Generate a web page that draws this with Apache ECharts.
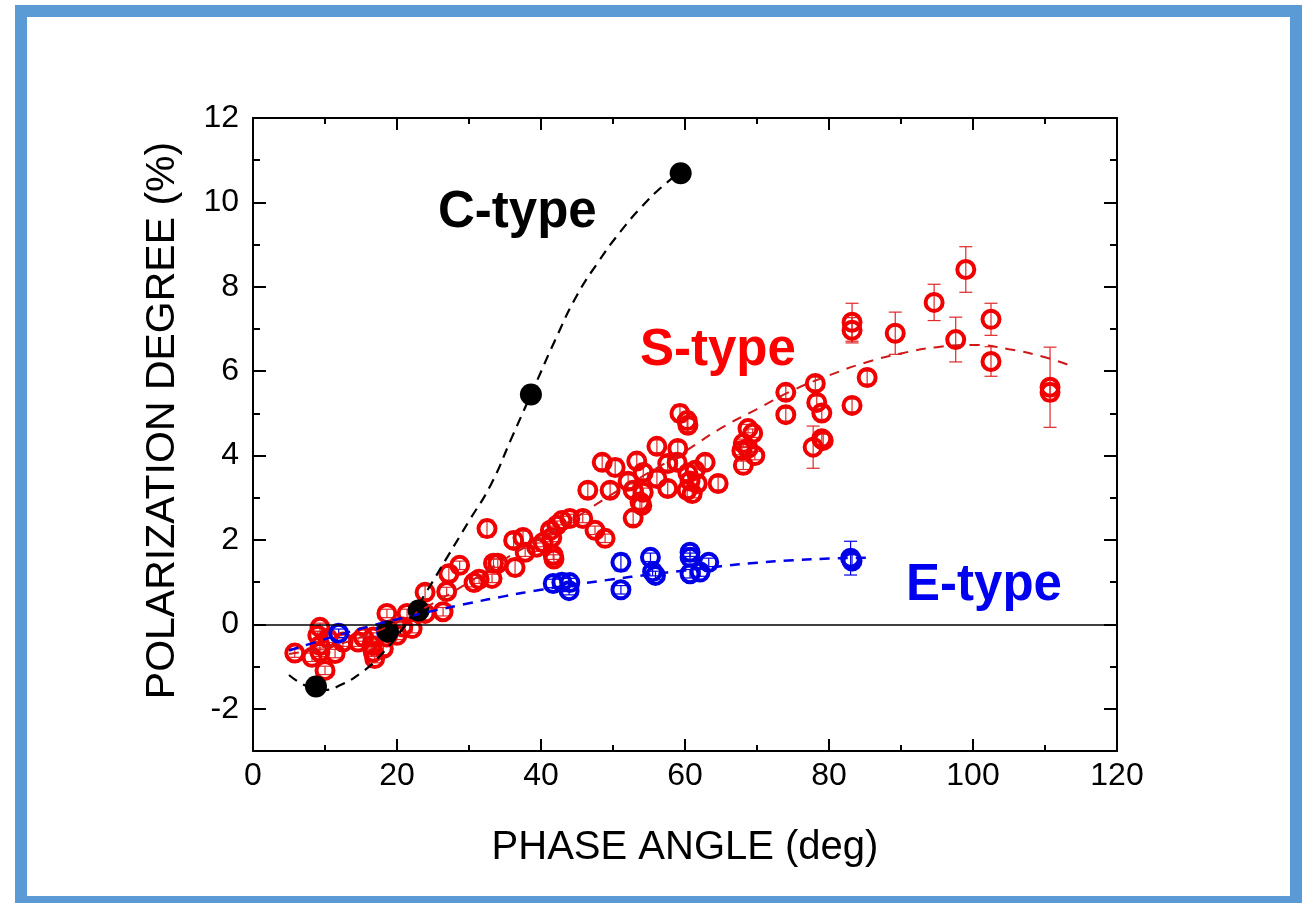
<!DOCTYPE html>
<html>
<head>
<meta charset="utf-8">
<script src="https://cdn.jsdelivr.net/npm/echarts@6/dist/echarts.min.js"></script>
<style>
  html, body { margin: 0; padding: 0; background: #fff; }
  #chart { position: absolute; left: 0; top: 0; width: 1312px; height: 903px; }
  #frame {
    position: absolute; left: 15px; top: 5px; width: 1287px; height: 903px;
    box-sizing: border-box; border: 12px solid #5b9bd5; pointer-events: none;
  }
</style>
</head>
<body>
<div id="chart"></div>
<div id="frame"></div>
<script>
// phase angle (deg), polarization (%), error (%)
const sTypePoints = [
  [5.8, -0.68, 0.1], [8.2, -0.78, 0.1], [9.0, -0.26, 0.1], [9.3, -0.5, 0.1],
  [9.3, -0.66, 0.1], [9.3, -0.07, 0.1], [10.0, -1.09, 0.1], [10.4, -0.33, 0.1],
  [11.4, -0.69, 0.1], [12.5, -0.42, 0.1], [14.6, -0.42, 0.1], [15.3, -0.3, 0.1],
  [16.5, -0.5, 0.1], [16.7, -0.3, 0.1], [16.7, -0.66, 0.1], [16.9, -0.81, 0.1],
  [18.1, -0.57, 0.15], [18.6, -0.3, 0.1], [18.6, 0.26, 0.1], [20.0, -0.26, 0.1],
  [20.8, -0.06, 0.1], [21.4, 0.26, 0.1], [22.1, -0.1, 0.1], [23.9, 0.26, 0.15],
  [23.9, 0.76, 0.15], [26.4, 0.3, 0.1], [26.9, 0.78, 0.1], [27.2, 1.2, 0.15],
  [28.7, 1.4, 0.1], [30.7, 0.99, 0.1], [31.4, 1.07, 0.1],
  [32.5, 2.27, 0.2], [33.2, 1.09, 0.1], [33.4, 1.45, 0.1], [34.0, 1.45, 0.1],
  [36.2, 1.99, 0.15], [36.4, 1.35, 0.2], [37.5, 2.06, 0.15], [37.8, 1.71, 0.1],
  [39.4, 1.83, 0.1], [40.3, 1.94, 0.1], [41.3, 2.23, 0.1], [41.5, 2.06, 0.1],
  [41.7, 1.64, 0.1], [41.8, 1.55, 0.1], [42.2, 2.35, 0.1], [42.9, 2.46, 0.1],
  [44.0, 2.51, 0.1], [45.8, 2.51, 0.1], [47.5, 2.23, 0.1], [48.9, 2.04, 0.1],
  [46.5, 3.18, 0.15], [48.5, 3.84, 0.15], [49.6, 3.18, 0.15], [50.3, 3.72, 0.2],
  [52.1, 3.39, 0.15], [52.8, 3.18, 0.15], [53.3, 3.87, 0.15], [53.75, 2.9, 0.15],
  [52.8, 2.52, 0.15], [54.0, 2.82, 0.15], [54.2, 3.13, 0.1], [54.2, 3.6, 0.15],
  [56.1, 3.46, 0.15], [56.1, 4.22, 0.15], [57.6, 3.22, 0.15], [57.6, 3.81, 0.15],
  [58.9, 3.84, 0.15], [59.0, 4.17, 0.15], [59.3, 5.0, 0.2], [60.3, 4.83, 0.2],
  [60.4, 4.72, 0.15], [60.4, 3.58, 0.15], [60.3, 3.18, 0.15], [61.0, 3.1, 0.1],
  [61.7, 3.34, 0.15], [61.4, 3.65, 0.15], [60.7, 3.4, 0.15], [62.8, 3.84, 0.15],
  [64.6, 3.34, 0.15], [68.1, 3.77, 0.1], [67.9, 4.12, 0.1], [68.75, 4.64, 0.1],
  [69.4, 4.53, 0.1], [68.1, 4.29, 0.1], [68.75, 4.17, 0.1], [69.7, 4.0, 0.1],
  [74.0, 5.5, 0.15], [74.0, 4.97, 0.15], [78.1, 5.71, 0.15], [78.3, 5.26, 0.15],
  [79.0, 5.01, 0.15], [77.8, 4.2, 0.5], [79.0, 4.4, 0.15], [79.2, 4.36, 0.15],
  [83.2, 7.16, 0.45], [83.2, 6.97, 0.3], [83.2, 5.19, 0.15], [85.3, 5.85, 0.15],
  [89.2, 6.9, 0.5], [94.6, 7.63, 0.43], [97.6, 6.75, 0.53], [99.0, 8.41, 0.54],
  [102.5, 7.23, 0.38], [102.5, 6.23, 0.35], [110.7, 5.62, 0.95], [110.7, 5.5, 0.2]
];

const eTypePoints = [
  [11.9, -0.21, 0.1], [18.5, -0.15, 0.1], [41.7, 0.97, 0.1], [42.9, 1.0, 0.1],
  [44.0, 0.99, 0.1], [43.9, 0.8, 0.1], [51.1, 1.47, 0.2], [51.1, 0.82, 0.1],
  [55.2, 1.59, 0.1], [55.5, 1.25, 0.1], [55.9, 1.16, 0.1], [60.7, 1.71, 0.1],
  [60.7, 1.59, 0.1], [60.7, 1.2, 0.1], [62.1, 1.24, 0.1], [63.3, 1.47, 0.1],
  [83.0, 1.57, 0.4], [83.2, 1.5, 0.15]
];

const cTypePoints = [[8.75, -1.47], [18.75, -0.17], [23.0, 0.33], [38.6, 5.45], [59.4, 10.69]];

// fitted curves
const cFitX = [5, 8, 10, 12, 15, 18, 21, 24, 27, 30, 33, 36, 39, 42, 45, 48, 51, 54, 57, 60];
const cFitY = [-1.2, -1.5, -1.55, -1.45, -1.15, -0.68, -0.05, 0.75, 1.6, 2.45, 3.3, 4.45, 5.6, 6.75, 7.8, 8.6, 9.3, 9.9, 10.4, 10.8];
const sFitX = [5, 10, 15, 20, 25, 30, 35, 40, 45, 50, 55, 60, 65, 70, 75, 80, 85, 90, 95, 100, 105, 110, 114];
const sFitY = [-0.7, -0.55, -0.3, 0.05, 0.5, 1.0, 1.55, 2.05, 2.55, 3.1, 3.6, 4.1, 4.65, 5.1, 5.55, 5.9, 6.2, 6.42, 6.57, 6.62, 6.52, 6.33, 6.1];
const eFitX = [5, 10, 15, 20, 25, 30, 35, 40, 45, 50, 55, 60, 65, 70, 75, 80, 86];
const eFitY = [-0.62, -0.35, -0.1, 0.12, 0.32, 0.5, 0.67, 0.82, 0.95, 1.07, 1.18, 1.28, 1.38, 1.46, 1.52, 1.56, 1.58];

const xTicks = [0, 20, 40, 60, 80, 100, 120];
const yTicks = [-2, 0, 2, 4, 6, 8, 10, 12];

const typeText = ['C-type', 'S-type', 'E-type'];
const typeX = [25.7, 53.75, 90.7];
const typeY = [9.75, 6.49, 0.92];
const typeColor = ['#000000', '#ff0000', '#0000f0'];

const RED = '#f00000';
const BLUE = '#0000e6';
const FONT = '"Liberation Sans", Arial, sans-serif';

const zip = (xs, ys) => xs.map((x, i) => [x, ys[i]]);

function errorBars(color) {
  return function (params, api) {
    const x = api.value(0), y = api.value(1), e = api.value(2);
    const lo = api.coord([x, y - e]);
    const hi = api.coord([x, y + e]);
    const style = { stroke: color, lineWidth: 1.2 };
    return {
      type: 'group',
      children: [
        { type: 'line', shape: { x1: lo[0], y1: lo[1], x2: hi[0], y2: hi[1] }, style },
        { type: 'line', shape: { x1: lo[0] - 6.5, y1: lo[1], x2: lo[0] + 6.5, y2: lo[1] }, style },
        { type: 'line', shape: { x1: hi[0] - 6.5, y1: hi[1], x2: hi[0] + 6.5, y2: hi[1] }, style }
      ]
    };
  };
}

function boxX(pos, withLabels) {
  return {
    type: 'value', position: pos, min: 0, max: 120, interval: 20,
    axisLine: { show: true, onZero: false, lineStyle: { color: '#000', width: 2 } },
    axisTick: { show: true, inside: true, length: 12, lineStyle: { color: '#000', width: 2 } },
    minorTick: { show: true, splitNumber: 2, length: 6, lineStyle: { color: '#000', width: 2 } },
    splitLine: { show: false },
    axisLabel: withLabels
      ? { show: true, fontSize: 32, color: '#000', fontFamily: FONT, margin: 9, customValues: xTicks }
      : { show: false }
  };
}

function boxY(pos, major, withLabels) {
  const ax = {
    type: 'value', position: pos, min: -3, max: 12, interval: 1,
    axisLine: { show: !major, onZero: false, lineStyle: { color: '#000', width: 2 } },
    axisTick: { show: true, inside: true, length: major ? 13 : 7, lineStyle: { color: '#000', width: 2 } },
    splitLine: { show: false },
    axisLabel: { show: false }
  };
  if (major) ax.axisTick.customValues = yTicks;
  if (withLabels) {
    ax.axisLabel = { show: true, fontSize: 32, color: '#000', fontFamily: FONT, margin: 14, customValues: yTicks };
    ax.name = 'POLARIZATION DEGREE (%)';
    ax.nameLocation = 'middle';
    ax.nameGap = 70;
    ax.nameTextStyle = { fontSize: 41, color: '#000', fontFamily: FONT, padding: [0, 0, 0, 28] };
  }
  return ax;
}

const xBottom = boxX('bottom', true);
xBottom.name = 'PHASE ANGLE (deg)';
xBottom.nameLocation = 'middle';
xBottom.nameGap = 77;
xBottom.nameTextStyle = { fontSize: 40, color: '#000', fontFamily: FONT };

const chart = echarts.init(document.getElementById('chart'));
chart.setOption({
  backgroundColor: '#fff',
  animation: false,
  grid: { left: 253, right: 195, top: 118, bottom: 152 },
  xAxis: [xBottom, boxX('top', false)],
  yAxis: [boxY('left', false, true), boxY('left', true, false), boxY('right', false, false), boxY('right', true, false)],
  series: [
    {
      type: 'line', data: [], silent: true,
      markLine: {
        silent: true, symbol: 'none', label: { show: false },
        lineStyle: { color: '#000', width: 1.5, type: 'solid' },
        data: [{ yAxis: 0 }]
      }
    },
    {
      type: 'line', data: zip(sFitX, sFitY), smooth: true, showSymbol: false, silent: true,
      lineStyle: { color: '#d01818', width: 2, type: [10, 8] }
    },
    {
      type: 'line', data: zip(eFitX, eFitY), smooth: true, showSymbol: false, silent: true,
      lineStyle: { color: BLUE, width: 2.5, type: [10, 8] }
    },
    {
      type: 'line', data: zip(cFitX, cFitY), smooth: true, showSymbol: false, silent: true,
      lineStyle: { color: '#000', width: 2.2, type: [10, 7] }
    },
    { type: 'custom', data: sTypePoints, renderItem: errorBars('#e02828'), silent: true },
    { type: 'custom', data: eTypePoints, renderItem: errorBars(BLUE), silent: true },
    {
      type: 'scatter', data: sTypePoints.map(p => [p[0], p[1]]), symbol: 'circle', symbolSize: 17,
      itemStyle: { color: 'rgba(255,255,255,0)', borderColor: RED, borderWidth: 4, opacity: 1 }
    },
    {
      type: 'scatter', data: eTypePoints.map(p => [p[0], p[1]]), symbol: 'circle', symbolSize: 17,
      itemStyle: { color: 'rgba(255,255,255,0)', borderColor: BLUE, borderWidth: 4, opacity: 1 }
    },
    {
      type: 'scatter', data: cTypePoints, symbol: 'circle', symbolSize: 22,
      itemStyle: { color: '#000', opacity: 1 }
    },
    {
      type: 'custom', silent: true,
      data: typeText.map((t, i) => [typeX[i], typeY[i], i]),
      renderItem: function (params, api) {
        const i = api.value(2);
        const p = api.coord([api.value(0), api.value(1)]);
        return {
          type: 'text',
          style: {
            x: p[0], y: p[1], text: typeText[i], fill: typeColor[i],
            font: 'bold 51px ' + FONT,
            textAlign: 'left', textVerticalAlign: 'middle', align: 'left', verticalAlign: 'middle'
          }
        };
      }
    }
  ]
});
</script>
</body>
</html>
